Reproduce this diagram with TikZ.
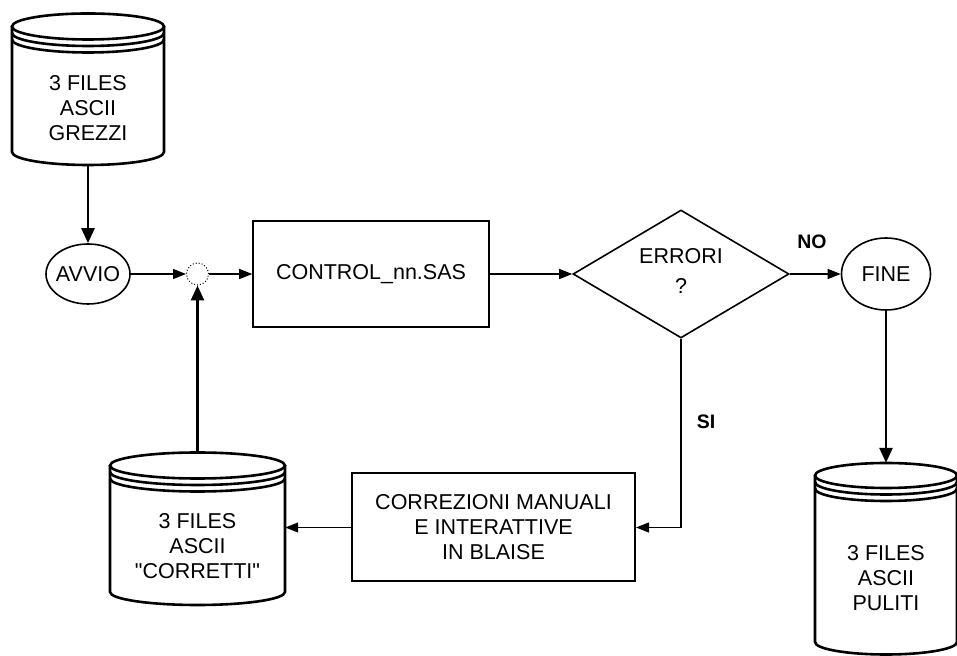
\documentclass[tikz,border=0pt]{standalone}
\usepackage{fontspec}
\setmainfont{Liberation Sans}
\usetikzlibrary{shapes, arrows.meta, positioning}

% drum: centre x, x radius, centre y of the top rim, y where the wall ends, y radius
\newcommand{\stackdrum}[5]{%
  \draw[drum] (#1,#3) ellipse [x radius=#2, y radius=#5];
  \draw[drum] (#1-#2,#3-6.5) arc [start angle=180, end angle=360, x radius=#2, y radius=#5];
  \draw[drum] (#1-#2,#3-13) arc [start angle=180, end angle=360, x radius=#2, y radius=#5];
  \draw[drum] (#1-#2,#3) -- (#1-#2,#4) arc [start angle=180, end angle=360, x radius=#2, y radius=#5] -- (#1+#2,#3);
}

\begin{document}
\begin{tikzpicture}[x=1pt, y=1pt,
    font=\fontsize{21.5}{25}\selectfont,
    drum/.style={line width=2.6pt},
    drumtext/.style={align=center, yshift=-19pt},
    flow/.style={line width=1.3pt, -{Triangle[length=13pt, width=10pt]}},
    feed/.style={line width=2.6pt, -{Triangle[length=15pt, width=13pt]}},
    answer/.style={font=\fontsize{19.5}{22}\selectfont\bfseries}]
        \useasboundingbox (0,0) rectangle (957,655);
        \clip (0,0) rectangle (957,655);

        \stackdrum{88}{76}{628.5}{503}{13}
        \stackdrum{197.5}{87.5}{189.5}{63}{13}
        \stackdrum{886}{71}{179.5}{13}{12.5}

        \node[minimum width=152, minimum height=152, inner sep=0,
            label={[drumtext]center:3 FILES\\ASCII\\GREZZI}] (gr) at (88, 566) {};
        \node[minimum width=175, minimum height=152, inner sep=0,
            label={[drumtext]center:3 FILES\\ASCII\\\textquotedbl CORRETTI\textquotedbl}] (cor) at (197.5, 127.5) {};
        \node[minimum width=142, minimum height=192, inner sep=0,
            label={[drumtext]center:3 FILES\\ASCII\\PULITI}] (pul) at (886, 96) {};

        \node[ellipse, draw, line width=1.6pt, minimum width=84, minimum height=60, inner sep=0, label=center:AVVIO] (avvio) at (88, 381) {};
        \node[circle, draw, dotted, line width=1pt, minimum size=22, inner sep=0] (junc) at (197.5, 381) {};
        \node[rectangle, draw, line width=1.6pt, minimum width=236, minimum height=106] (control) at (371, 381) {CONTROL\_nn.SAS};
        \node[diamond, draw, line width=1.6pt, minimum width=216, minimum height=128, inner sep=0,
            label={[align=center, yshift=3pt]center:ERRORI\\[5pt]?}] (diam) at (681, 381) {};
        \node[ellipse, draw, line width=1.6pt, minimum width=89, minimum height=72, inner sep=0, label=center:FINE] (fine) at (886, 381) {};
        \node[rectangle, draw, line width=2pt, minimum width=283, minimum height=108, align=center] (corr) at (493.5, 127.5)
            {CORREZIONI MANUALI\\E INTERATTIVE\\IN BLAISE};

        \node[answer] (no) at (812, 413) {NO};
        \node[answer] (si) at (706, 233) {SI};

        \draw[feed] (gr) to (avvio);
        \draw[feed] (fine) to (pul);
        \draw[feed] (cor) to (junc);
        \draw[flow] (avvio) to (junc);
        \draw[flow] (junc) to (control);
        \draw[flow] (control) to (diam);
        \draw[flow] (diam) to (fine);
        \draw[flow] (diam) |- (corr);
        \draw[flow] (corr) to (cor);
    \end{tikzpicture}
\end{document}
